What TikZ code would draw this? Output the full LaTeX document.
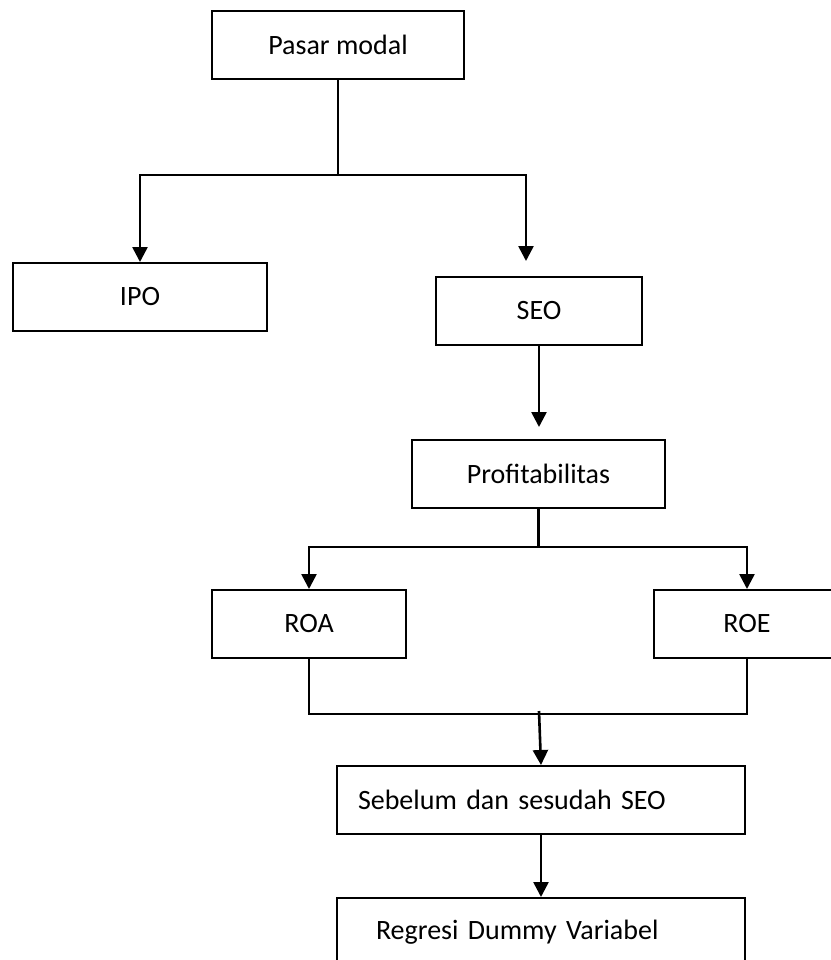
\documentclass[tikz,border=0pt]{standalone}
\usepackage{fontspec}
\setmainfont{Carlito}
\usetikzlibrary{arrows.meta}

\begin{document}
\begin{tikzpicture}[x=0.5pt,y=-0.5pt,
  font=\fontsize{14}{16}\selectfont,
  box/.style={draw, line width=1pt, minimum height=34pt, inner sep=0pt},
  link/.style={line width=1.1pt},
  flow/.style={line width=1.3pt, -{Triangle[width=7.5pt,length=7.5pt]}}]
  \clip (0,0) rectangle (831,960);
  \fill[white] (0,0) rectangle (831,960);

  \node[box, minimum width=126pt] (pasar) at (338,45) {Pasar modal};
  \node[box, minimum width=127pt] (ipo) at (140,297) {IPO};
  \node[box, minimum width=103pt] (seo) at (539,311) {SEO};
  \node[box, minimum width=126.5pt] (prof) at (538.5,474) {Profitabilitas};
  \node[box, minimum width=97pt] (roa) at (309,624) {ROA};
  \node[box, minimum width=93pt] (roe) at (747,624) {ROE};
  \node[box, inner xsep=10.5pt, text width=183pt, align=left] (seb) at (541,800) {Sebelum dan sesudah SEO};
  \node[box, inner xsep=19.5pt, text width=165pt, align=left] (reg) at (541,932) {Regresi Dummy Variabel};

  % pasar modal -> IPO / SEO
  \draw[link] (pasar.south) -- ++(0,95) coordinate (split1);
  \coordinate (seoin) at (526,261);
  \draw[flow] (split1) -| (ipo.north);
  \draw[flow] (split1) -| (seoin);

  % SEO -> profitabilitas
  \coordinate (profin) at (539,427);
  \draw[flow] (seo.south) -- (profin);

  % profitabilitas -> ROA / ROE
  \draw[link] (prof.south) -- ++(0,38) coordinate (split2);
  \draw[flow] (split2) -| (roa.north);
  \draw[flow] (split2) -| (roe.north);

  % ROA, ROE -> sebelum dan sesudah SEO
  \draw[link] (roa.south) -- ++(0,55) -| (roe.south);
  \coordinate (merge) at (539,711);
  \draw[flow] (merge) -- (seb.north);

  \draw[flow] (seb.south) -- (reg.north);
\end{tikzpicture}
\end{document}
